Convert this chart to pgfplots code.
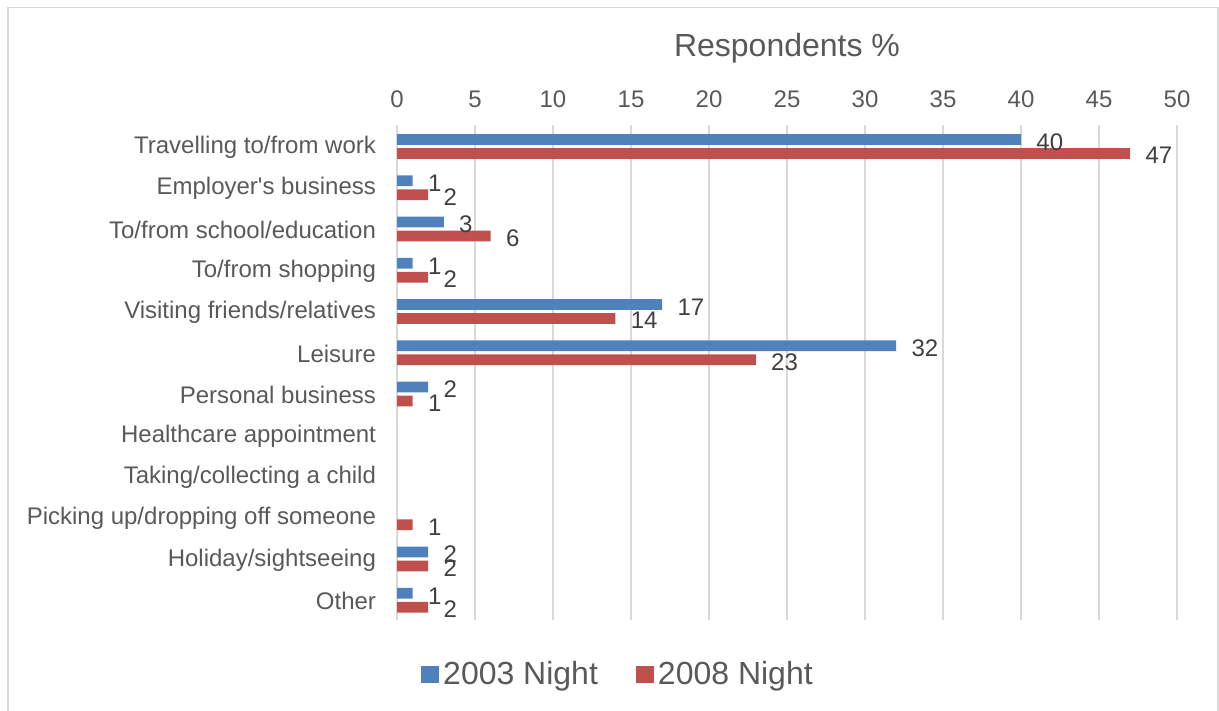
\documentclass[border=0pt]{standalone}
\usepackage{fontspec}
\setmainfont{Liberation Sans}
\usepackage{pgfplots}
\pgfplotsset{compat=1.18}
\definecolor{c03}{HTML}{4F81BD}
\definecolor{c08}{HTML}{C0504D}
\definecolor{gridc}{HTML}{D9D9D9}
\definecolor{txt}{HTML}{595959}
\definecolor{lbl}{HTML}{404040}
\begin{document}
\begin{tikzpicture}
\useasboundingbox (0,0) rectangle (609.5pt,-355.5pt);
\draw[gridc, line width=0.9pt] (4pt,-360pt) -- (4pt,-3.75pt) -- (609pt,-3.75pt) -- (609pt,-360pt);
\begin{axis}[
 at={(198.5pt,-310pt)}, anchor=south west,
 scale only axis, width=390pt, height=247.5pt,
 xmin=0, xmax=50, xtick={0,5,...,50},
 ymin=-0.52, ymax=11.48, y dir=reverse,
 ytick={0,...,11},
 yticklabels={Travelling to/from work, Employer\textquotesingle s business, To/from school/education, To/from shopping, Visiting friends/relatives, Leisure, Personal business, Healthcare appointment, Taking/collecting a child, Picking up/dropping off someone, Holiday/sightseeing, Other},
 xticklabel pos=upper,
 axis line style={draw=none},
 major tick length=0pt,
 xmajorgrids, grid style={gridc, line width=0.8pt},
 tick label style={font=\fontsize{12}{14}\selectfont, text=txt},
 /pgf/number format/assume math mode=true,
 xticklabel style={yshift=5pt},
 yticklabel style={xshift=-7pt, yshift=-0.5pt},
 title={Respondents \%},
 title style={at={(0.5,1)}, anchor=center, yshift=32.5pt, font=\fontsize{16}{19}\selectfont, text=txt},
 legend columns=2,
 legend style={at={(0.2846,-0.11)}, anchor=center, draw=none, fill=none, font=\fontsize{16}{19}\selectfont, text=txt, /tikz/every even column/.append style={column sep=17pt}},
 point meta=x,
 nodes near coords,
 nodes near coords style={anchor=west, inner sep=0pt, xshift=7.5pt, font=\fontsize{12}{14}\selectfont, text=lbl},
]
\addplot[xbar, bar width=5.3pt, bar shift=3.5pt, fill=c03, draw=none,
  every node near coord/.append style={yshift=2.2pt},
  legend image code/.code={\fill[c03] (-0.5pt,-4.4pt) rectangle (8.5pt,4.4pt);}]
  coordinates {(40,0) (1,1) (3,2) (1,3) (17,4) (32,5) (2,6) (2,10) (1,11)};
\addlegendentry{2003 Night}
\addplot[xbar, bar width=5.3pt, bar shift=-3.5pt, fill=c08, draw=none,
  every node near coord/.append style={yshift=-4.6pt},
  legend image code/.code={\fill[c08] (-0.5pt,-4.4pt) rectangle (8.5pt,4.4pt);}]
  coordinates {(47,0) (2,1) (6,2) (2,3) (14,4) (23,5) (1,6) (1,9) (2,10) (2,11)};
\addlegendentry{2008 Night}
\end{axis}
\end{tikzpicture}
\end{document}
